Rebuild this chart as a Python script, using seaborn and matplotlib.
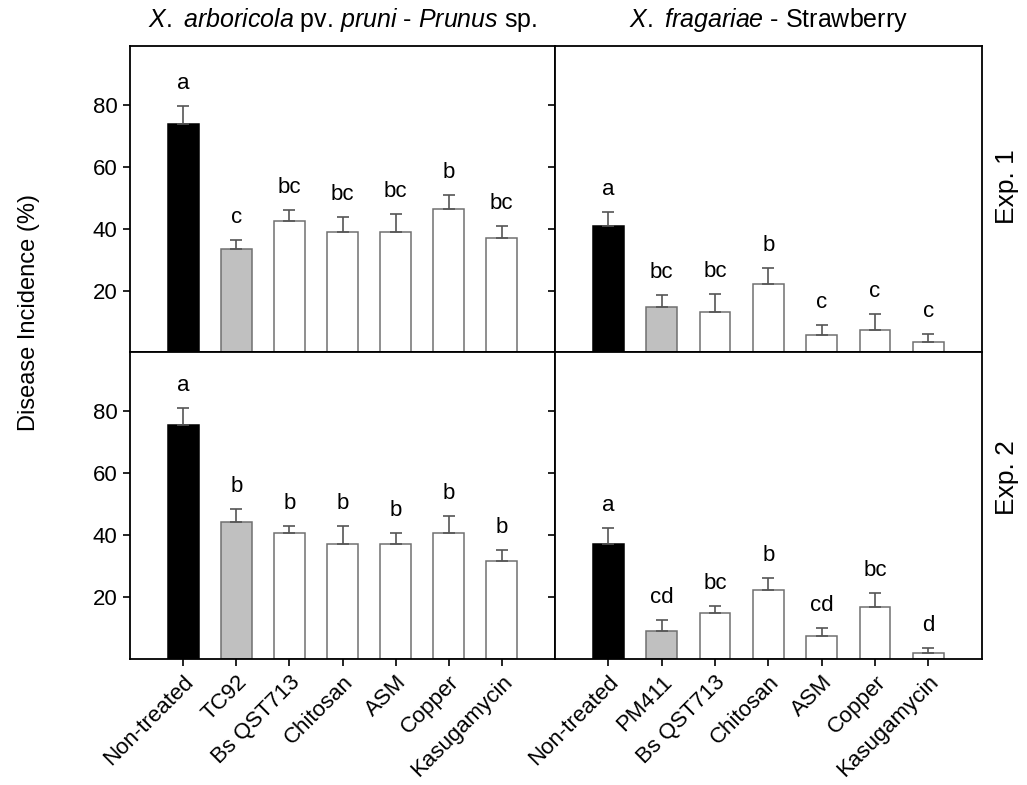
import numpy as np
import pandas as pd
import matplotlib
matplotlib.use("Agg")
import matplotlib.pyplot as plt
import seaborn as sns

sns.set_theme(style="white")
plt.rcParams['font.family'] = ['Liberation Sans', 'DejaVu Sans']
plt.rcParams['mathtext.fontset'] = 'custom'
plt.rcParams['mathtext.rm'] = 'Liberation Sans'
plt.rcParams['mathtext.it'] = 'Liberation Sans:italic'
plt.rcParams['text.color'] = 'black'
plt.rcParams['axes.labelcolor'] = 'black'
plt.rcParams['xtick.color'] = 'black'
plt.rcParams['ytick.color'] = 'black'

# ---- data ----
treat_prunus = ["Non-treated", "TC92", "Bs QST713", "Chitosan", "ASM", "Copper", "Kasugamycin"]
treat_straw = ["Non-treated", "PM411", "Bs QST713", "Chitosan", "ASM", "Copper", "Kasugamycin"]

prunus_exp1 = [73.8, 33.4, 42.6, 38.9, 38.9, 46.2, 37.1]
prunus_exp1_err = [5.7, 2.9, 3.5, 4.7, 5.7, 4.6, 3.7]
prunus_exp1_let = ["a", "c", "bc", "bc", "bc", "b", "bc"]

straw_exp1 = [40.7, 14.8, 13.1, 22.1, 5.5, 7.1, 3.4]
straw_exp1_err = [4.7, 3.7, 5.9, 5.1, 3.5, 5.2, 2.5]
straw_exp1_let = ["a", "bc", "bc", "b", "c", "c", "c"]

prunus_exp2 = [75.7, 44.3, 40.6, 37.1, 37.1, 40.6, 31.6]
prunus_exp2_err = [5.3, 4.2, 2.5, 6.0, 3.5, 5.6, 3.5]
prunus_exp2_let = ["a", "b", "b", "b", "b", "b", "b"]

straw_exp2 = [37.0, 9.1, 14.7, 22.2, 7.4, 16.7, 2.0]
straw_exp2_err = [5.4, 3.6, 2.4, 4.0, 2.5, 4.7, 1.7]
straw_exp2_let = ["a", "cd", "bc", "b", "cd", "bc", "d"]

fill_colors = ["#000000", "#c0c0c0", "#ffffff", "#ffffff", "#ffffff", "#ffffff", "#ffffff"]
edge_colors = ["#000000", "#707070", "#707070", "#707070", "#707070", "#707070", "#707070"]

panels = [
    (treat_prunus, prunus_exp1, prunus_exp1_err, prunus_exp1_let),
    (treat_straw, straw_exp1, straw_exp1_err, straw_exp1_let),
    (treat_prunus, prunus_exp2, prunus_exp2_err, prunus_exp2_let),
    (treat_straw, straw_exp2, straw_exp2_err, straw_exp2_let),
]

fig = plt.figure(figsize=(10.27, 7.85), dpi=100)
L, M, R = 0.1266, 0.5404, 0.9559
T, C, B = 0.9414, 0.5510, 0.1605
boxes = [
    [L, C, M - L, T - C],
    [M, C, R - M, T - C],
    [L, B, M - L, C - B],
    [M, B, R - M, C - B],
]

for i, (cats, vals, errs, lets) in enumerate(panels):
    ax = fig.add_axes(boxes[i])
    df = pd.DataFrame({"treatment": cats, "value": vals})
    pal = dict(zip(cats, fill_colors))
    sns.barplot(data=df, x="treatment", y="value", hue="treatment", palette=pal,
                order=cats, hue_order=cats, dodge=False, legend=False,
                width=0.58, ax=ax, linewidth=1.1, saturation=1)
    for patch, ec in zip(ax.patches, edge_colors):
        patch.set_edgecolor(ec)
    x = np.arange(len(cats))
    ax.errorbar(x, vals, yerr=[np.zeros(len(errs)), errs], fmt="none",
                ecolor="#555555", elinewidth=1.2, capsize=4, capthick=1.2, zorder=3)
    for xi, v, e, l in zip(x, vals, errs, lets):
        ax.text(xi, v + e + 5.5, l, ha="center", va="baseline", fontsize=16)
    ax.set_xlim(-1, 7)
    ax.set_ylim(0, 99)
    ax.set_yticks([20, 40, 60, 80])
    ax.set_xlabel("")
    ax.set_ylabel("")
    for s in ax.spines.values():
        s.set_visible(True)
        s.set_color("black")
        s.set_linewidth(1.3)
    ax.tick_params(axis="both", direction="out", length=5, width=1.2, color="black",
                   labelsize=16, left=True, bottom=True, pad=4)
    if i % 2 == 1:
        ax.set_yticklabels([])
    if i < 2:
        ax.set_xticklabels([])
    else:
        ax.set_xticks(x)
        ax.set_xticklabels(cats, rotation=45, ha="right", rotation_mode="anchor", fontsize=16)

fig.text((L + M) / 2, 0.974,
         r"$\mathit{X.\ arboricola}$ pv. $\mathit{pruni}$ - $\mathit{Prunus}$ sp.",
         ha="center", va="center", fontsize=18)
fig.text((M + R) / 2, 0.974, r"$\mathit{X.\ fragariae}$ - Strawberry",
         ha="center", va="center", fontsize=18)
fig.text(0.028, 0.602, "Disease Incidence (%)", rotation=90, ha="center", va="center", fontsize=17)
fig.text(0.981, 0.762, "Exp. 1", rotation=90, ha="center", va="center", fontsize=19)
fig.text(0.981, 0.392, "Exp. 2", rotation=90, ha="center", va="center", fontsize=19)

fig.savefig("out.png", dpi=100, facecolor="white")
